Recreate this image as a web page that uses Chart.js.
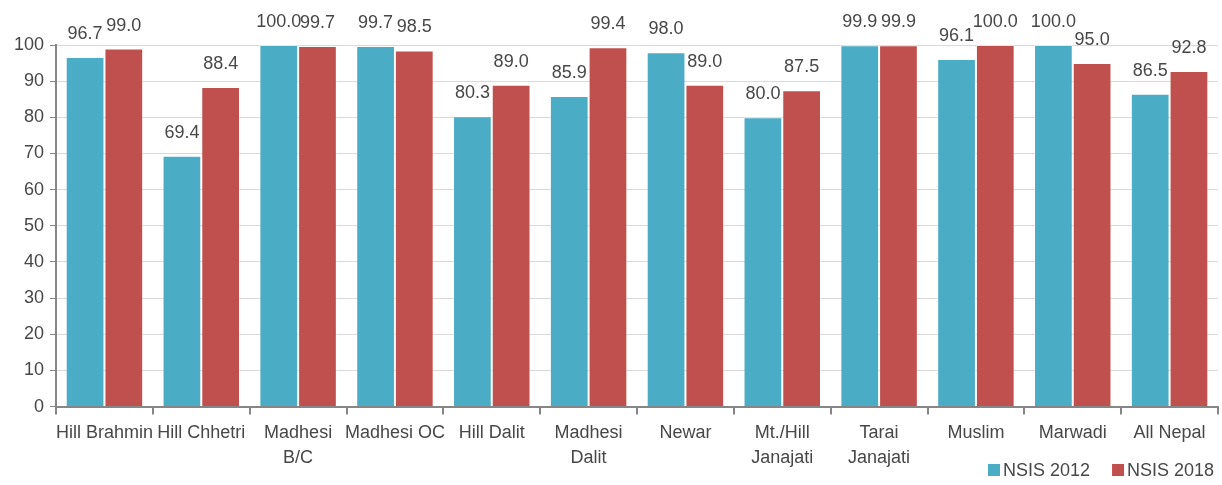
<!DOCTYPE html>
<html>
<head>
<meta charset="utf-8">
<script src="https://cdn.jsdelivr.net/npm/chart.js@4"></script>
<style>
    html, body {
        margin: 0;
        padding: 0;
        background: #ffffff;
    }

    #wrap {
        width: 1222px;
        height: 485px;
    }
</style>
</head>
<body>
<div id="wrap">
    <canvas id="casteChart"></canvas>
</div>

<script>
const groups = [
    "Hill Brahmin",
    "Hill Chhetri",
    ["Madhesi", "B/C"],
    "Madhesi OC",
    "Hill Dalit",
    ["Madhesi", "Dalit"],
    "Newar",
    ["Mt./Hill", "Janajati"],
    ["Tarai", "Janajati"],
    "Muslim",
    "Marwadi",
    "All Nepal"
];

const nsis2012 = [96.7, 69.4, 100.0, 99.7, 80.3, 85.9, 98.0, 80.0, 99.9, 96.1, 100.0, 86.5];
const nsis2018 = [99.0, 88.4, 99.7, 98.5, 89.0, 99.4, 89.0, 87.5, 99.9, 100.0, 95.0, 92.8];

const seriesNames = ["NSIS 2012", "NSIS 2018"];

const yTicks = [0, 10, 20, 30, 40, 50, 60, 70, 80, 90, 100];

const FONT = "'Liberation Sans Narrow', 'Liberation Sans', Arial, sans-serif";
const TEXT = "#474747";
const AXIS = "#868686";

// value labels above each bar
const valueLabels = {
    id: "valueLabels",
    afterDatasetsDraw(chart) {
        const ctx = chart.ctx;
        ctx.save();
        ctx.font = "18px " + FONT;
        ctx.fillStyle = TEXT;
        ctx.textAlign = "center";
        ctx.textBaseline = "bottom";
        chart.data.datasets.forEach((ds, i) => {
            chart.getDatasetMeta(i).data.forEach((bar, j) => {
                ctx.fillText(ds.data[j].toFixed(1), bar.x, bar.y - 14);
            });
        });
        ctx.restore();
    }
};

// small legend in the lower right corner
const cornerLegend = {
    id: "cornerLegend",
    afterDraw(chart) {
        const ctx = chart.ctx;
        ctx.save();
        ctx.font = "18px " + FONT;
        ctx.textBaseline = "middle";
        ctx.textAlign = "left";
        const y = chart.height - 15;
        let x = chart.width - 234;
        chart.data.datasets.forEach(ds => {
            ctx.fillStyle = ds.backgroundColor;
            ctx.fillRect(x, y - 6, 12, 12);
            ctx.fillStyle = TEXT;
            ctx.fillText(ds.label, x + 15, y + 1);
            x += ctx.measureText(ds.label).width + 15 + 22;
        });
        ctx.restore();
    }
};

new Chart(document.getElementById("casteChart").getContext("2d"), {
    type: "bar",
    data: {
        labels: groups,
        datasets: [
            {
                label: seriesNames[0],
                data: nsis2012,
                backgroundColor: "#4BACC6",
                borderColor: "rgba(255,255,255,0.35)",
                borderWidth: 1
            },
            {
                label: seriesNames[1],
                data: nsis2018,
                backgroundColor: "#C0504D",
                borderColor: "rgba(255,255,255,0.35)",
                borderWidth: 1
            }
        ]
    },
    options: {
        responsive: true,
        maintainAspectRatio: false,
        animation: false,
        datasets: {
            bar: {
                categoryPercentage: 0.8,
                barPercentage: 1.0
            }
        },
        layout: {
            padding: { top: 45, right: 4, left: 8, bottom: 8 }
        },
        plugins: {
            legend: { display: false },
            tooltip: { enabled: false }
        },
        scales: {
            x: {
                grid: {
                    display: true,
                    drawOnChartArea: false,
                    drawTicks: true,
                    tickLength: 8,
                    tickColor: AXIS,
                    lineWidth: 2
                },
                border: { color: AXIS, width: 2 },
                ticks: {
                    color: TEXT,
                    font: { family: FONT, size: 18, lineHeight: 1.4 },
                    maxRotation: 0,
                    autoSkip: false,
                    padding: 6
                }
            },
            y: {
                min: 0,
                max: 100,
                afterBuildTicks(axis) {
                    axis.ticks = yTicks.map(v => ({ value: v }));
                },
                grid: {
                    color: "#D9D9D9",
                    lineWidth: 1,
                    tickLength: 6,
                    tickColor: AXIS
                },
                border: { color: AXIS, width: 2 },
                ticks: {
                    color: TEXT,
                    font: { family: FONT, size: 18 },
                    padding: 6
                }
            }
        }
    },
    plugins: [valueLabels, cornerLegend]
});
</script>
</body>
</html>
